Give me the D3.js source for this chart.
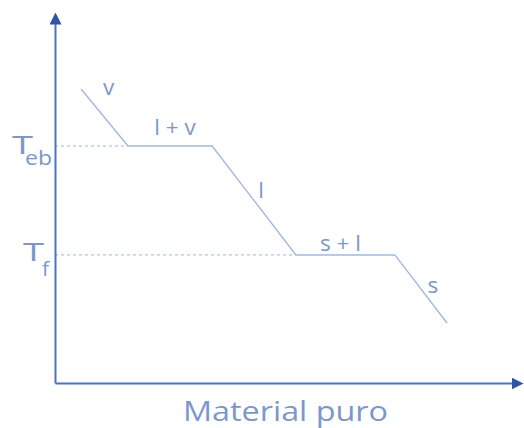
<!DOCTYPE html>
<html>
<head>
<meta charset="utf-8">
<script src="https://cdn.jsdelivr.net/npm/d3@7"></script>
<style>
  body { margin: 0; background: #fff; }
  text { font-family: "Open Sans", sans-serif; fill: #7b97cd; }
</style>
</head>
<body>
<div id="chart"></div>
<script>
// Cooling curve of a pure material (x = time, y = temperature, 0-100 units)
var curveX = [5.6, 15.7, 33.8, 51.8, 73.1, 84.3];
var curveY = [79.9, 64.4, 64.4, 34.8, 34.8, 16.3];
var phaseLabels = ['v', 'l + v', 'l', 's + l', 's'];
var refSubs = ['eb', 'f'];      // T_eb and T_f
var refValues = [64.4, 34.8];
var xTitle = 'Material puro';

var width = 524, height = 428;

var svg = d3.select('#chart').append('svg')
    .attr('width', width)
    .attr('height', height);

var x = d3.scaleLinear().domain([0, 100]).range([55, 520]);
var y = d3.scaleLinear().domain([0, 100]).range([383, 15]);

// arrow head
svg.append('defs').append('marker')
    .attr('id', 'arrow')
    .attr('markerUnits', 'userSpaceOnUse')
    .attr('viewBox', '0 0 12 12')
    .attr('markerWidth', 12)
    .attr('markerHeight', 12)
    .attr('refX', 9)
    .attr('refY', 6)
    .attr('orient', 'auto')
    .append('path')
    .attr('d', 'M0,0L12,6L0,12Z')
    .attr('fill', '#2f56a6');

// dashed reference lines
svg.selectAll('.ref')
    .data(refValues)
    .enter().append('line')
    .attr('class', 'ref')
    .attr('x1', x(0))
    .attr('x2', function(d) {
        var i = curveY.indexOf(d);
        return x(curveX[i]);
    })
    .attr('y1', function(d) { return y(d); })
    .attr('y2', function(d) { return y(d); })
    .attr('stroke', '#9fb5df')
    .attr('stroke-width', 1)
    .attr('stroke-dasharray', '3,3');

// curve
var pts = curveX.map(function(d, i) { return [x(d), y(curveY[i])]; });
svg.append('path')
    .attr('d', d3.line()(pts))
    .attr('fill', 'none')
    .attr('stroke', '#a3b8e1')
    .attr('stroke-width', 1.4);

// phase labels, placed off each segment midpoint
var labelOffsets = [[4, -22], [5, -11], [7, -2], [-5, -4], [12, 4]];
svg.selectAll('.phase')
    .data(phaseLabels)
    .enter().append('text')
    .attr('class', 'phase')
    .attr('text-anchor', 'middle')
    .attr('font-size', 22.5)
    .attr('x', function(d, i) { return (pts[i][0] + pts[i + 1][0]) / 2 + labelOffsets[i][0]; })
    .attr('y', function(d, i) { return (pts[i][1] + pts[i + 1][1]) / 2 + labelOffsets[i][1]; })
    .text(function(d) { return d; });

// axes (no ticks, arrow at the end)
var yAxis = svg.append('g')
    .attr('transform', 'translate(' + x(0) + ',0)')
    .call(d3.axisLeft(y).tickValues(refValues).tickSize(0).tickSizeOuter(0));
var xAxis = svg.append('g')
    .attr('transform', 'translate(0,' + y(0) + ')')
    .call(d3.axisBottom(x).tickValues([]).tickSizeOuter(0));

svg.selectAll('.domain')
    .attr('stroke', '#4f73ba')
    .attr('stroke-width', 2)
    .attr('marker-end', 'url(#arrow)');

// T_eb / T_f tick labels (T is drawn wide, like the original)
yAxis.selectAll('.tick text').remove();
var tPos = [[-43, 7], [-32, 6]];
var subPos = [[-30, 18], [-13, 21]];
var subLen = [27, 7];
yAxis.selectAll('.tick').each(function(d, i) {
    var g = d3.select(this);
    g.append('text')
        .attr('x', tPos[i][0]).attr('y', tPos[i][1])
        .attr('text-anchor', 'start')
        .attr('font-size', 26)
        .attr('textLength', 21)
        .attr('lengthAdjust', 'spacingAndGlyphs')
        .text('T');
    g.append('text')
        .attr('x', subPos[i][0]).attr('y', subPos[i][1])
        .attr('text-anchor', 'start')
        .attr('font-size', 20)
        .attr('textLength', subLen[i])
        .attr('lengthAdjust', 'spacingAndGlyphs')
        .text(refSubs[i]);
});

// axis title
svg.append('text')
    .attr('x', 285.5)
    .attr('y', 421)
    .attr('text-anchor', 'middle')
    .attr('font-size', 28)
    .attr('textLength', 205)
    .attr('lengthAdjust', 'spacingAndGlyphs')
    .text(xTitle);
</script>
</body>
</html>
